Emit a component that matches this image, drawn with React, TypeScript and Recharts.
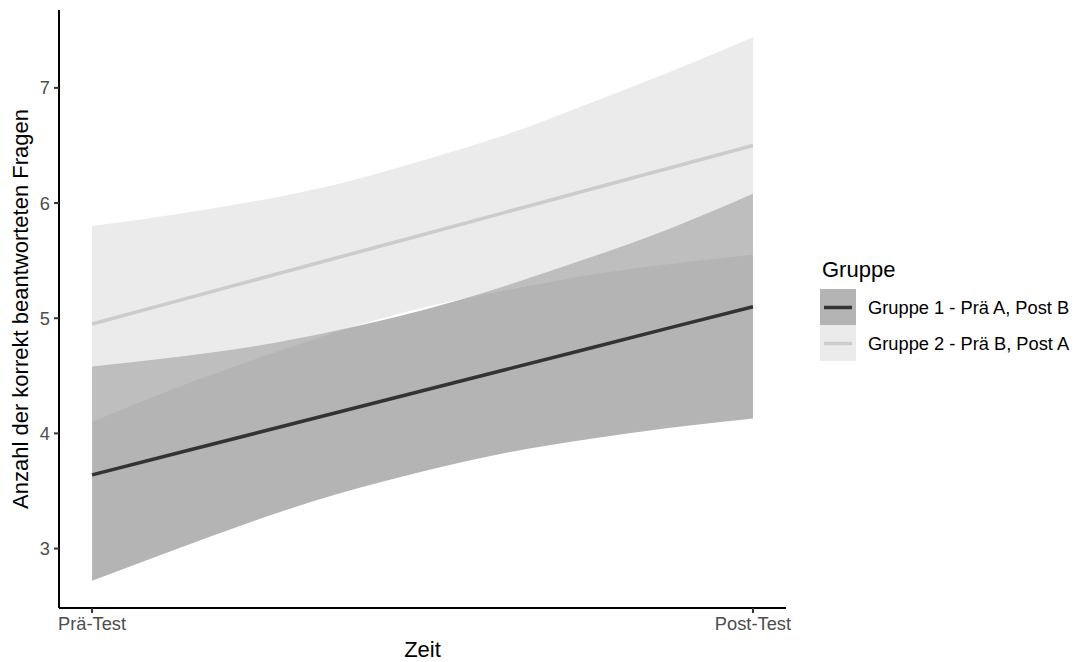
import React from 'react';
import { ComposedChart, Area, Line, XAxis, YAxis, Legend } from 'recharts';

// Time positions (0 = Prä-Test, 1 = Post-Test) at which the fitted curves were read
const timePoints = [0, 0.125, 0.25, 0.375, 0.5, 0.625, 0.75, 0.875, 1];
const timeTicks = [0, 1];
const timeLabels = ['Prä-Test', 'Post-Test'];
const valueTicks = [3, 4, 5, 6, 7];

const groupNames = ['Gruppe 1 - Prä A, Post B', 'Gruppe 2 - Prä B, Post A'];

// Gruppe 1 (dark)
const group1Fit = [3.64, 3.823, 4.005, 4.188, 4.37, 4.553, 4.735, 4.918, 5.1];
const group1Lower = [2.72, 2.99, 3.25, 3.48, 3.67, 3.83, 3.95, 4.05, 4.13];
const group1Upper = [4.58, 4.66, 4.76, 4.9, 5.07, 5.28, 5.52, 5.78, 6.08];

// Gruppe 2 (light)
const group2Fit = [4.95, 5.144, 5.338, 5.531, 5.725, 5.919, 6.113, 6.306, 6.5];
const group2Lower = [4.1, 4.39, 4.65, 4.89, 5.09, 5.24, 5.37, 5.47, 5.55];
const group2Upper = [5.8, 5.9, 6.02, 6.17, 6.37, 6.59, 6.86, 7.14, 7.44];

const data = timePoints.map((t, i) => ({
  t,
  g1Band: [group1Lower[i], group1Upper[i]],
  g2Band: [group2Lower[i], group2Upper[i]],
  g1: group1Fit[i],
  g2: group2Fit[i],
}));

const FONT = '"Liberation Sans", Arial, Helvetica, sans-serif';
const DARK = '#333333';
const LIGHT = '#cccccc';
const DARK_ALPHA = 0.37;
const LIGHT_ALPHA = 0.4;
const TEXT_SIZE = 18.3;
const TITLE_SIZE = 22;

const renderLegend = () => (
  <svg width={265} height={120} style={{ display: 'block', fontFamily: FONT }}>
    <text x={12} y={27} fontSize={TITLE_SIZE} fill="#000">Gruppe</text>
    <rect x={10} y={39} width={36} height={36} fill={DARK} fillOpacity={DARK_ALPHA} />
    <line x1={14} x2={42} y1={57.5} y2={57.5} stroke={DARK} strokeWidth={3.5} />
    <rect x={10} y={75} width={36} height={36} fill={LIGHT} fillOpacity={LIGHT_ALPHA} />
    <line x1={14} x2={42} y1={93.5} y2={93.5} stroke={LIGHT} strokeWidth={3.5} />
    <text x={58} y={64} fontSize={TEXT_SIZE} fill="#000">{groupNames[0]}</text>
    <text x={58} y={100} fontSize={TEXT_SIZE} fill="#000">{groupNames[1]}</text>
  </svg>
);

export default function App() {
  return (
    <div style={{ position: 'absolute', left: 0, top: 0, width: 1075, height: 662, background: '#fff', fontFamily: FONT }}>
      <ComposedChart
        width={1075}
        height={662}
        data={data}
        margin={{ top: 10, right: 289, bottom: 0, left: 0 }}
        style={{ fontFamily: FONT }}
      >
        <XAxis
          type="number"
          dataKey="t"
          domain={[-0.05, 1.05]}
          ticks={timeTicks}
          interval={0}
          allowDataOverflow
          tickFormatter={(v: number) => timeLabels[timeTicks.indexOf(v)]}
          height={54}
          tickSize={5}
          tickMargin={4}
          axisLine={{ stroke: '#000', strokeWidth: 2 }}
          tickLine={{ stroke: '#333', strokeWidth: 2 }}
          tick={{ fill: '#4d4d4d', fontSize: TEXT_SIZE, fontFamily: FONT }}
          label={{ value: 'Zeit', position: 'insideBottom', offset: 5, fill: '#000', fontSize: TITLE_SIZE, fontFamily: FONT }}
        />
        <YAxis
          type="number"
          domain={[2.484, 7.676]}
          ticks={valueTicks}
          interval={0}
          allowDataOverflow
          width={59}
          tickSize={5}
          tickMargin={4}
          axisLine={{ stroke: '#000', strokeWidth: 2 }}
          tickLine={{ stroke: '#333', strokeWidth: 2 }}
          tick={{ fill: '#4d4d4d', fontSize: TEXT_SIZE, fontFamily: FONT }}
        />
        <Legend
          layout="vertical"
          align="center"
          verticalAlign="middle"
          content={renderLegend}
          wrapperStyle={{ position: 'absolute', left: 810, top: 250, width: 265, height: 120 }}
        />
        <Area
          dataKey="g1Band"
          type="natural"
          fill={DARK}
          fillOpacity={DARK_ALPHA}
          stroke="none"
          activeDot={false}
          isAnimationActive={false}
          legendType="none"
        />
        <Area
          dataKey="g2Band"
          type="natural"
          fill={LIGHT}
          fillOpacity={LIGHT_ALPHA}
          stroke="none"
          activeDot={false}
          isAnimationActive={false}
          legendType="none"
        />
        <Line dataKey="g1" type="linear" stroke={DARK} strokeWidth={3.5} dot={false} activeDot={false} isAnimationActive={false} />
        <Line dataKey="g2" type="linear" stroke={LIGHT} strokeWidth={3.5} dot={false} activeDot={false} isAnimationActive={false} />
      </ComposedChart>
      <svg
        width={1075}
        height={662}
        style={{ position: 'absolute', left: 0, top: 0, pointerEvents: 'none', fontFamily: FONT }}
      >
        <text transform="translate(28,309) rotate(-90)" textAnchor="middle" fontSize={TITLE_SIZE} fill="#000">
          Anzahl der korrekt beantworteten Fragen
        </text>
      </svg>
    </div>
  );
}
